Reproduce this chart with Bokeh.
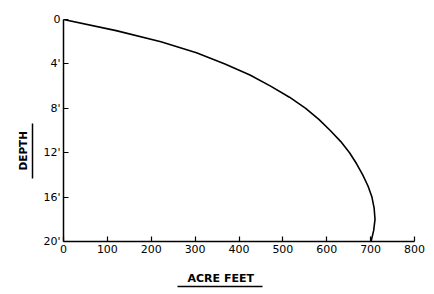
from bokeh.plotting import figure
from bokeh.models import Range1d, FixedTicker, LinearAxis, Title
from bokeh.embed import file_html
from bokeh.resources import INLINE

# data
depth_ft = [0, 1, 2, 3, 4, 5, 6, 7, 8, 9, 10, 11, 12, 13, 14, 15, 16, 17, 18, 19, 20]
acre_feet = [0, 120, 222, 303, 368, 425, 472, 515, 552, 582, 608, 632, 652, 668, 682, 694, 703, 708, 710, 707, 701]

x_ticks = [0, 100, 200, 300, 400, 500, 600, 700, 800]
y_ticks = [0, 4, 8, 12, 16, 20]
y_tick_labels = ["0", "4'", "8'", "12'", "16'", "20'"]

FONT = "DejaVu Sans"

p = figure(frame_width=351, frame_height=222,
           min_border_left=63, min_border_right=14, min_border_top=19, min_border_bottom=50,
           x_range=Range1d(0, 800), y_range=Range1d(20, 0),
           output_backend="svg", toolbar_location=None)
p.outline_line_color = None
p.xgrid.grid_line_color = None
p.ygrid.grid_line_color = None
p.background_fill_color = "white"
p.border_fill_color = "white"

p.line(acre_feet, depth_ft, line_color="black", line_width=1.6)

for ax in (p.xaxis[0], p.yaxis[0]):
    ax.axis_line_color = "black"
    ax.axis_line_width = 1.5
    ax.major_tick_in = 5
    ax.major_tick_out = 0
    ax.major_tick_line_color = "black"
    ax.major_tick_line_width = 1.2
    ax.minor_tick_line_color = None
    ax.major_label_text_font = FONT
    ax.major_label_text_font_size = "11px"
    ax.major_label_text_color = "black"
    ax.major_label_standoff = 3

p.xaxis[0].ticker = FixedTicker(ticks=x_ticks)
p.yaxis[0].ticker = FixedTicker(ticks=y_ticks)
p.yaxis[0].major_label_overrides = {t: s for t, s in zip(y_ticks, y_tick_labels)}

# small gaps between tick labels and the titles
p.yaxis[0].axis_label = " "
p.yaxis[0].axis_label_text_font_size = "2px"
p.yaxis[0].axis_label_standoff = 3
p.xaxis[0].axis_label = " "
p.xaxis[0].axis_label_text_font_size = "2px"
p.xaxis[0].axis_label_standoff = 7


def underline_axis(bounds):
    a = LinearAxis(ticker=FixedTicker(ticks=[]), bounds=bounds)
    a.major_tick_in = 0
    a.major_tick_out = 0
    a.minor_tick_in = 0
    a.minor_tick_out = 0
    a.major_label_standoff = 0
    a.major_label_text_font_size = "1px"
    a.axis_line_color = "black"
    a.axis_line_width = 1.5
    return a


def title(text, offset, standoff, size):
    return Title(text=text, align="left", offset=offset, standoff=standoff,
                 text_font=FONT, text_font_size=size, text_font_style="bold",
                 text_color="black")


# left: tick labels, then underline, then "DEPTH"
p.add_layout(underline_axis((9.37, 14.32)), "left")
p.add_layout(title("DEPTH", 71, 7, "10.5px"), "left")
# below: tick labels, then "ACRE FEET", then its underline
p.add_layout(title("ACRE FEET", 124, 4, "11px"), "below")
p.add_layout(underline_axis((259.8, 453.6)), "below")

open("out.html", "w").write(file_html(p, INLINE))
